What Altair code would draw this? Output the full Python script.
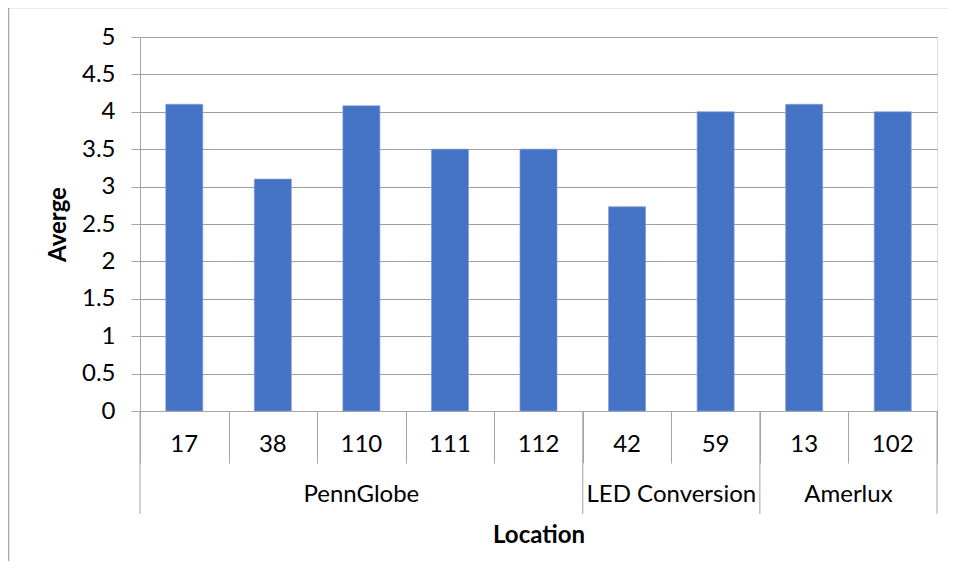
import altair as alt
import pandas as pd

locations = ["17", "38", "110", "111", "112", "42", "59", "13", "102"]
groups = ["PennGlobe", "PennGlobe", "PennGlobe", "PennGlobe", "PennGlobe",
          "LED Conversion", "LED Conversion", "Amerlux", "Amerlux"]
values = [4.1, 3.1, 4.08, 3.5, 3.5, 2.73, 4.0, 4.1, 4.0]
y_ticks = [0, 0.5, 1, 1.5, 2, 2.5, 3, 3.5, 4, 4.5, 5]

FONT = "Lato"
FS = 24
W, H = 797, 374

df = pd.DataFrame({"loc": locations, "group": groups, "value": values})
df["idx"] = range(len(df))
df["pos"] = df["idx"] + 0.5

# group spans
gdf = (df.groupby("group", sort=False)
         .agg(start=("idx", "min"), end=("idx", "max"))
         .reset_index())
gdf["end"] = gdf["end"] + 1
gdf["center"] = (gdf["start"] + gdf["end"]) / 2
seps = sorted(set(gdf["start"].tolist() + gdf["end"].tolist()))
sdf = pd.DataFrame({"b": seps})

xscale = alt.Scale(domain=[0, len(locations)], nice=False, zero=False, padding=0)

bars = alt.Chart(df).mark_bar(size=37, color="#4472C4", stroke="#7f9cd8", strokeWidth=0.7).encode(
    x=alt.X("pos:Q", scale=xscale,
            axis=alt.Axis(values=list(range(len(locations) + 1)), labels=False, ticks=True,
                          tickSize=52, tickColor="#a6a6a6", domainColor="#a6a6a6",
                          grid=False, title="Location", titleFont=FONT, titleFontSize=FS,
                          titleFontWeight="bold", titleColor="black",
                          titleY=124, titleBaseline="middle")),
    y=alt.Y("value:Q", scale=alt.Scale(domain=[0, 5], nice=False),
            axis=alt.Axis(values=y_ticks, format="~g", labelFont=FONT, labelFontSize=FS,
                          labelColor="black", tickSize=9, tickColor="#a6a6a6",
                          domainColor="#a6a6a6", gridColor="#9e9e9e", gridWidth=1.2,
                          labelPadding=16, title="Averge", titleFont=FONT,
                          titleFontSize=FS, titleFontWeight="bold", titleColor="black",
                          titleX=-82, titleBaseline="middle")),
)

cat_labels = alt.Chart(df).mark_text(font=FONT, fontSize=FS, color="black", baseline="middle").encode(
    x=alt.X("pos:Q", scale=xscale),
    y=alt.value(H + 34),
    text="loc:N",
)

grp_labels = alt.Chart(gdf).mark_text(font=FONT, fontSize=FS, color="black", baseline="middle").encode(
    x=alt.X("center:Q", scale=xscale),
    y=alt.value(H + 84),
    text="group:N",
)

sep_rules = alt.Chart(sdf).mark_rule(color="#a6a6a6", strokeWidth=1).encode(
    x=alt.X("b:Q", scale=xscale),
    y=alt.value(H),
    y2=alt.value(H + 103),
)

frame = alt.Chart(pd.DataFrame({"a": [0]})).mark_rect(fill=None, stroke="#a6a6a6", strokeWidth=1.5).encode(
    x=alt.value(-131.5), x2=alt.value(W + 40), y=alt.value(-29.5), y2=alt.value(H + 300),
)

chart = alt.layer(frame, bars, sep_rules, cat_labels, grp_labels).properties(
    width=W, height=H,
    autosize=alt.AutoSizeParams(type="none"),
    padding={"left": 132, "top": 29, "right": 11, "bottom": 150},
).configure_view(fill="#e6e6e6", stroke=None).configure(background="white")

chart.save("out.html", embed_options={"renderer": "svg", "actions": False})
